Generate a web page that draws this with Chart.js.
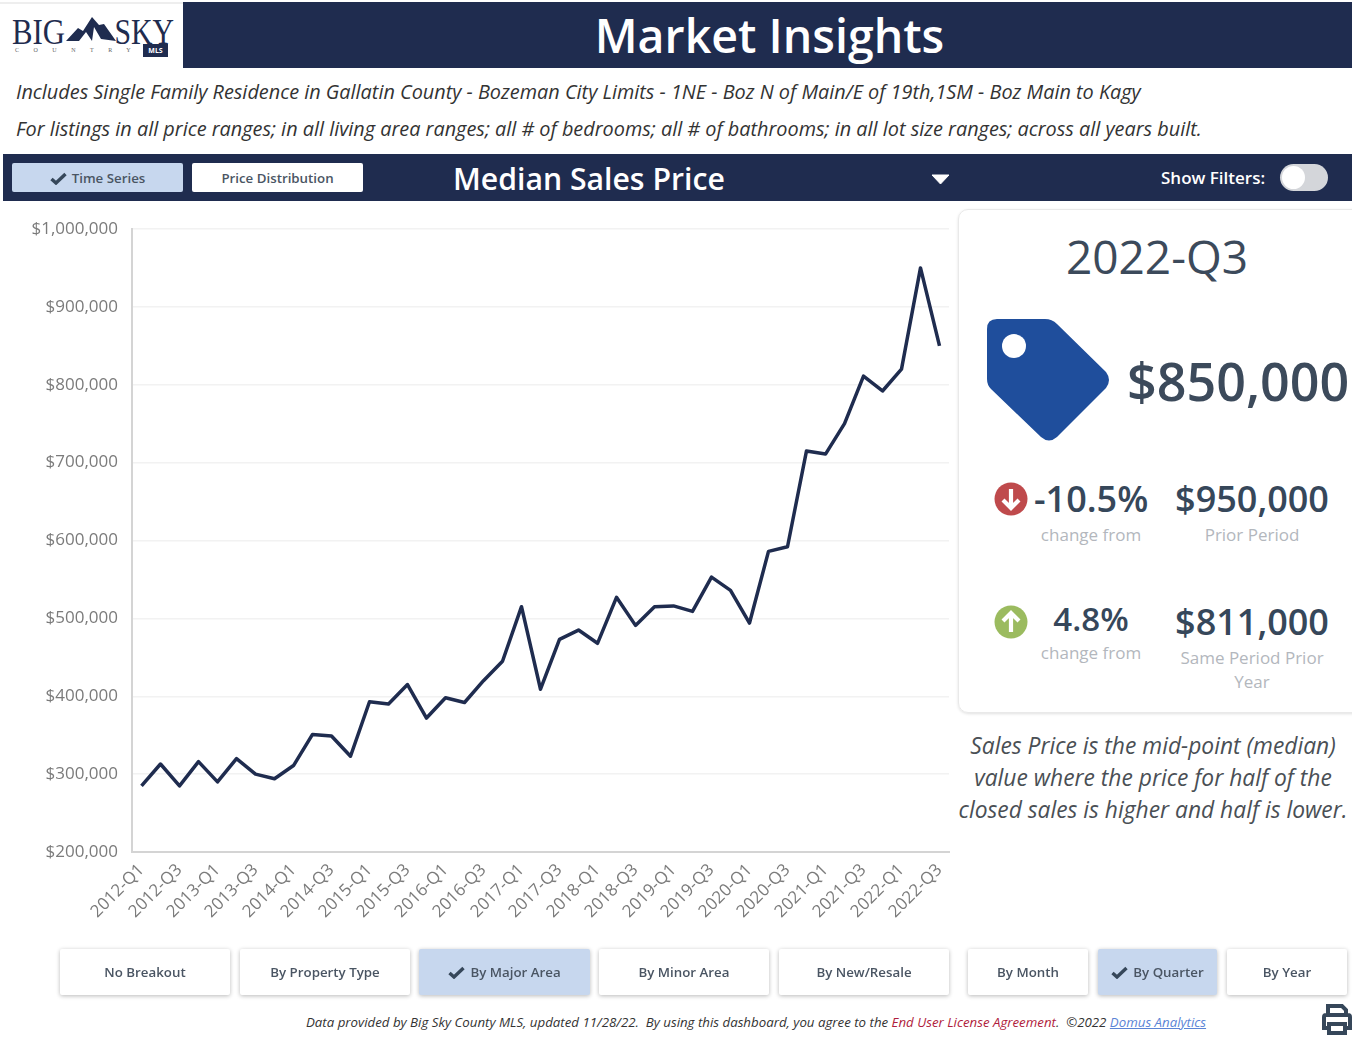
<!DOCTYPE html>
<html>
<head>
<meta charset="utf-8">
<title>Market Insights</title>
<script src="https://cdn.jsdelivr.net/npm/chart.js@4/dist/chart.umd.min.js"></script>
<style>
  html, body { margin: 0; padding: 0; background: #fff; }
  body { position: relative; width: 1352px; height: 1043px; overflow: hidden; font-family: "Open Sans", sans-serif; }
  .abs { position: absolute; white-space: nowrap; }
  .ctr { transform: translate(-50%, -50%); }
  .mid { transform: translateY(-50%); }
  .band { position: absolute; background: #1f2c4f; }
  .tab { position: absolute; top: 163px; height: 29px; line-height: 30px; text-align: center; font-size: 13.3px; font-weight: 600; color: #4a5563; border-radius: 2px; background: #fff; }
  .btn { position: absolute; top: 949px; height: 46px; line-height: 46px; text-align: center; font-size: 13.3px; font-weight: 600; color: #4a5563; background: #fff; box-shadow: 0 1px 4px rgba(0,0,0,0.28); border-radius: 2px; }
  .on { background: #c7d7ee; }
  .sub { font-size: 19.87px; font-style: italic; color: #333; left: 16px; }
  .val { font-size: 36px; font-weight: 600; color: #36475a; }
  .lbl { font-size: 17px; color: #b3b7bd; }
  .note { font-size: 22.8px; font-style: italic; color: #4a4f55; }
  .chk { display: inline-block; vertical-align: -2px; margin-right: 5px; }
  .logo { font-family: "Liberation Serif", serif; font-size: 35px; color: #1f2c4f; }
  #chartBox { position: absolute; left: 0; top: 210px; width: 950px; height: 740px; }
</style>
</head>
<body>

<!-- Cabeçalho -->
<div class="abs" style="left:0;top:2px;width:1352px;height:2px;background:#eee"></div>
<div class="abs logo" style="left:12px;top:33px;transform:translateY(-50%) scaleX(.88);transform-origin:left center">BIG</div>
<svg class="abs" style="left:66px;top:15px" width="50" height="28" viewBox="0 0 50 28">
  <path d="M0 26 L12 13 L17 16 L26 2 L33 10 L38 9 L50 26 L35 24 L28 12 L26 26 L20 17 L13 26 Z" fill="#1f2c4f"/>
</svg>
<div class="abs logo" style="right:1178px;top:33px;transform:translateY(-50%) scaleX(.85);transform-origin:right center">SKY</div>
<div class="abs" style="left:15px;top:47px;font-family:'Liberation Serif',serif;font-size:6px;letter-spacing:14.5px;color:#666">COUNTRY</div>
<div class="abs" style="left:143px;top:44px;width:25px;height:13px;background:#1f2c4f;color:#fff;font-size:7px;font-weight:700;line-height:14px;text-align:center">MLS</div>

<div class="band" style="left:183px;top:2px;width:1169px;height:66px"></div>
<div class="abs ctr" style="left:769.5px;top:35px;font-size:46.5px;font-weight:600;color:#fff">Market Insights</div>

<div class="abs mid sub" style="top:91px">Includes Single Family Residence in Gallatin County - Bozeman City Limits - 1NE - Boz N of Main/E of 19th,1SM - Boz Main to Kagy</div>
<div class="abs mid sub" style="top:128px">For listings in all price ranges; in all living area ranges; all # of bedrooms; all # of bathrooms; in all lot size ranges; across all years built.</div>

<!-- Barra de ferramentas -->
<div class="band" style="left:3px;top:154px;width:1349px;height:47px"></div>
<div class="tab on" style="left:12px;width:171px"><svg class="chk" width="17" height="13" viewBox="0 0 17 13"><path d="M1.5 7 L6 11 L15.5 2" fill="none" stroke="#36475a" stroke-width="3.4"/></svg>Time Series</div>
<div class="tab" style="left:192px;width:171px">Price Distribution</div>
<div class="abs" style="left:453px;top:178px;transform:translateY(-50%);font-size:30.2px;font-weight:600;color:#fff">Median Sales Price</div>
<svg class="abs" style="left:931px;top:174px" width="19" height="11" viewBox="0 0 19 11"><path d="M1 1 H18 L9.5 10 Z" fill="#fff" stroke="#fff" stroke-linejoin="round"/></svg>
<div class="abs mid" style="left:1161px;top:176.5px;font-size:17px;font-weight:600;color:#fff">Show Filters:</div>
<div class="abs" style="left:1280px;top:164px;width:48px;height:27px;border-radius:14px;background:#d4d6da"></div>
<div class="abs" style="left:1282px;top:166px;width:23px;height:23px;border-radius:12px;background:#fff"></div>

<!-- Gráfico -->
<div id="chartBox"><canvas id="price-chart"></canvas></div>

<!-- Painel direito -->
<div class="abs" style="left:958px;top:209px;width:420px;height:502px;border:1px solid #e9e9e9;border-radius:10px;box-shadow:0 1px 3px rgba(0,0,0,0.12)"></div>
<div class="abs ctr" style="left:1157px;top:256px;font-size:46px;color:#3c4a5b">2022-Q3</div>
<svg class="abs" style="left:987px;top:319px" width="124" height="123" viewBox="0 0 124 123">
  <path d="M10 0 H58 Q65 0 70 5 L119 53 Q125 61 119 69 L70 118 Q62 125 54 118 L4 70 Q0 66 0 60 V10 Q0 0 10 0 Z" fill="#1f4e9c"/>
  <circle cx="27" cy="27" r="12" fill="#fff"/>
</svg>
<div class="abs" style="left:1127px;top:380px;transform:translateY(-50%);font-size:52px;font-weight:600;color:#3c4a5b">$850,000</div>

<svg class="abs" style="left:994px;top:482px" width="34" height="34" viewBox="0 0 34 34">
  <circle cx="17" cy="17" r="16.5" fill="#bf4a4c"/>
  <path d="M17 7 V26 M9 18 L17 26 L25 18" fill="none" stroke="#fff" stroke-width="4.2"/>
</svg>
<div class="abs mid val" style="left:1034px;top:498px">-10.5%</div>
<div class="abs ctr val" style="left:1252px;top:498px">$950,000</div>
<div class="abs ctr lbl" style="left:1091px;top:534px">change from</div>
<div class="abs ctr lbl" style="left:1252px;top:534px">Prior Period</div>

<svg class="abs" style="left:994px;top:605px" width="34" height="34" viewBox="0 0 34 34">
  <circle cx="17" cy="17" r="16.5" fill="#9bbb5f"/>
  <path d="M17 27 V8 M9 16 L17 8 L25 16" fill="none" stroke="#fff" stroke-width="4.2"/>
</svg>
<div class="abs ctr val" style="left:1091px;top:618px;font-size:33px">4.8%</div>
<div class="abs ctr val" style="left:1252px;top:621px">$811,000</div>
<div class="abs ctr lbl" style="left:1091px;top:652px">change from</div>
<div class="abs ctr lbl" style="left:1252px;top:657px">Same Period Prior</div>
<div class="abs ctr lbl" style="left:1252px;top:681px">Year</div>

<div class="abs ctr note" style="left:1153px;top:745px">Sales Price is the mid-point (median)</div>
<div class="abs ctr note" style="left:1153px;top:777px">value where the price for half of the</div>
<div class="abs ctr note" style="left:1153px;top:809px">closed sales is higher and half is lower.</div>

<!-- Botões -->
<div class="btn" style="left:60px;width:170px">No Breakout</div>
<div class="btn" style="left:240px;width:170px">By Property Type</div>
<div class="btn on" style="left:419px;width:171px"><svg class="chk" width="17" height="13" viewBox="0 0 17 13"><path d="M1.5 7 L6 11 L15.5 2" fill="none" stroke="#36475a" stroke-width="3.4"/></svg>By Major Area</div>
<div class="btn" style="left:599px;width:170px">By Minor Area</div>
<div class="btn" style="left:779px;width:170px">By New/Resale</div>
<div class="btn" style="left:968px;width:120px">By Month</div>
<div class="btn on" style="left:1098px;width:119px"><svg class="chk" width="17" height="13" viewBox="0 0 17 13"><path d="M1.5 7 L6 11 L15.5 2" fill="none" stroke="#36475a" stroke-width="3.4"/></svg>By Quarter</div>
<div class="btn" style="left:1227px;width:120px">By Year</div>

<!-- Rodapé -->
<div class="abs mid" style="left:306px;top:1022px;font-size:13.28px;font-style:italic;color:#333;white-space:pre">Data provided by Big Sky County MLS, updated 11/28/22.  By using this dashboard, you agree to the <span style="color:#b01c3c">End User License Agreement</span>.  ©2022 <span style="color:#5b84d6;text-decoration:underline">Domus Analytics</span></div>
<svg class="abs" style="left:1322px;top:1004px" width="30" height="31" viewBox="0 0 30 31">
  <path d="M6 11 V2 H20 L24 6 V11 M6 24 H2 V13 Q2 11 4 11 H26 Q28 11 28 13 V24 H24 M7 20 H23 V29 H7 Z" fill="none" stroke="#36475a" stroke-width="4"/>
</svg>

<script>
// Dados
const quarters = [
  '2012-Q1', '2012-Q2', '2012-Q3', '2012-Q4',
  '2013-Q1', '2013-Q2', '2013-Q3', '2013-Q4',
  '2014-Q1', '2014-Q2', '2014-Q3', '2014-Q4',
  '2015-Q1', '2015-Q2', '2015-Q3', '2015-Q4',
  '2016-Q1', '2016-Q2', '2016-Q3', '2016-Q4',
  '2017-Q1', '2017-Q2', '2017-Q3', '2017-Q4',
  '2018-Q1', '2018-Q2', '2018-Q3', '2018-Q4',
  '2019-Q1', '2019-Q2', '2019-Q3', '2019-Q4',
  '2020-Q1', '2020-Q2', '2020-Q3', '2020-Q4',
  '2021-Q1', '2021-Q2', '2021-Q3', '2021-Q4',
  '2022-Q1', '2022-Q2', '2022-Q3'
];

const medianPrice = [
  285000, 313000, 285000, 316000,
  290000, 320000, 300000, 294000,
  311000, 351000, 349000, 323000,
  393000, 390000, 415000, 372000,
  398000, 392000, 420000, 445000,
  515000, 409000, 473000, 485000,
  468000, 527000, 491000, 515000,
  516000, 509000, 553000, 536000,
  494000, 586000, 592000, 715000,
  711000, 750000, 811000, 792000,
  820000, 950000, 850000
];

const AXIS_MIN = 200000;
const AXIS_MAX = 1000000;
const AXIS_STEP = 100000;

// Gráfico de linha: preço mediano por trimestre
function renderPriceChart() {
  const canvas = document.getElementById('price-chart');

  new Chart(canvas, {
    type: 'line',
    data: {
      labels: quarters,
      datasets: [{
        label: 'Median Sales Price',
        data: medianPrice,
        borderColor: '#1f2c4f',
        borderWidth: 3.5,
        borderJoinStyle: 'round',
        fill: false,
        tension: 0,
        pointRadius: 0
      }]
    },
    options: {
      responsive: true,
      maintainAspectRatio: false,
      animation: false,
      layout: { padding: { top: 19, right: 1 } },
      plugins: {
        legend: { display: false },
        tooltip: { enabled: false }
      },
      scales: {
        x: {
          offset: true,
          afterFit: scale => {
            scale.height = 98;
            scale.paddingLeft = 0;
            scale.paddingRight = 0;
          },
          grid: { display: false, drawTicks: false },
          border: { color: '#d4d4d4', width: 2 },
          ticks: {
            autoSkip: false,
            minRotation: 45,
            maxRotation: 45,
            padding: 8,
            color: '#7b7b7b',
            font: { family: 'Open Sans', size: 17, weight: '500' },
            callback: function(value, index) {
              return index % 2 === 0 ? this.getLabelForValue(value) : null;
            }
          }
        },
        y: {
          min: AXIS_MIN,
          max: AXIS_MAX,
          afterFit: scale => {
            scale.width = 132;
            scale.paddingTop = 0;
            scale.paddingBottom = 0;
          },
          grid: { color: '#f2f2f2', lineWidth: 1.5, drawTicks: false },
          border: { color: '#d4d4d4', width: 2 },
          ticks: {
            stepSize: AXIS_STEP,
            padding: 14,
            color: '#7b7b7b',
            font: { family: 'Open Sans', size: 17, weight: '500' },
            callback: v => '$' + v.toLocaleString('en-US')
          }
        }
      }
    }
  });
}

renderPriceChart();
</script>
</body>
</html>
